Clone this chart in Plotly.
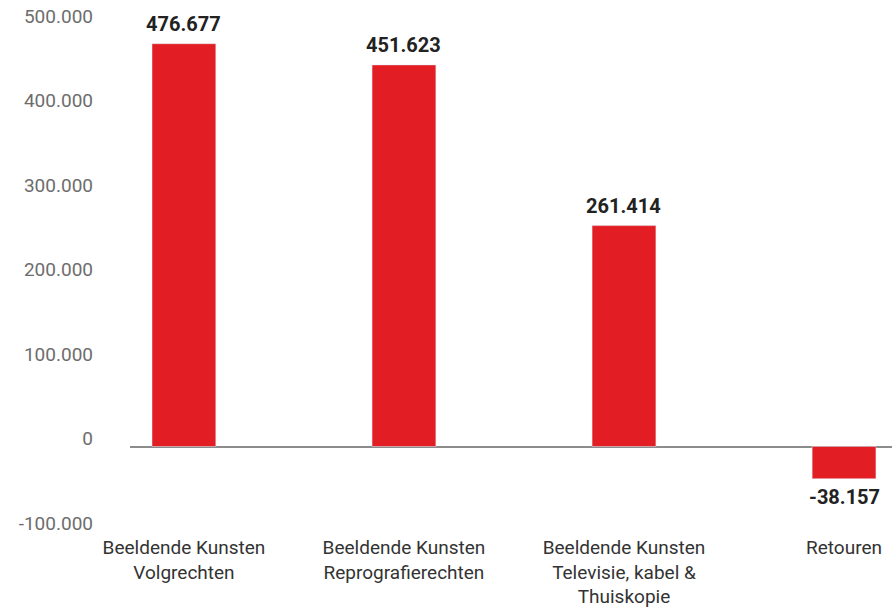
import plotly.graph_objects as go

categories = ["Beeldende Kunsten<br>Volgrechten",
              "Beeldende Kunsten<br>Reprografierechten",
              "Beeldende Kunsten<br>Televisie, kabel &<br>Thuiskopie",
              "Retouren"]
values = [476677, 451623, 261414, -38157]
value_labels = ["476.677", "451.623", "261.414", "-38.157"]
y_tickvals = [-100000, 0, 100000, 200000, 300000, 400000, 500000]
y_ticktext = ["-100.000", "0", "100.000", "200.000", "300.000", "400.000", "500.000"]

xpos = list(range(len(categories)))
FONT = "Roboto"

fig = go.Figure()
fig.add_trace(go.Bar(x=xpos, y=values, marker_color="#e31d24", width=0.29,
                     hoverinfo="skip"))

for x, v, t in zip(xpos, values, value_labels):
    fig.add_annotation(x=x, y=v, text="<b>" + t + "</b>", showarrow=False,
                       yanchor="bottom" if v >= 0 else "top",
                       yshift=6 if v >= 0 else -4,
                       font=dict(family=FONT, size=20, color="#222222"))

fig.update_layout(
    width=892, height=607,
    margin=dict(l=130, r=0, t=24, b=76),
    plot_bgcolor="white", paper_bgcolor="white",
    showlegend=False,
    font=dict(family=FONT),
    xaxis=dict(range=[-0.245, 3.218], tickvals=xpos, ticktext=categories,
               showgrid=False, zeroline=False, showline=False, ticks="",
               automargin=False, ticklabelstandoff=3, ticklabeloverflow="allow",
               tickfont=dict(family=FONT, size=19, color="#333333")),
    yaxis=dict(range=[-100000, 500000], tickvals=y_tickvals, ticktext=y_ticktext,
               showgrid=False, zeroline=True, zerolinecolor="#8c8c8c",
               zerolinewidth=2, showline=False, ticks="", automargin=False,
               ticklabelstandoff=36, ticklabelshift=-8, ticklabeloverflow="allow",
               tickfont=dict(family=FONT, size=19, color="#6d6d6d")),
)

# remove the page's default body margin so the figure fills the window exactly
fig.write_html("out.html",
               config={"displayModeBar": False},
               post_script="document.body.style.margin='0px';document.body.style.overflow='hidden';")
